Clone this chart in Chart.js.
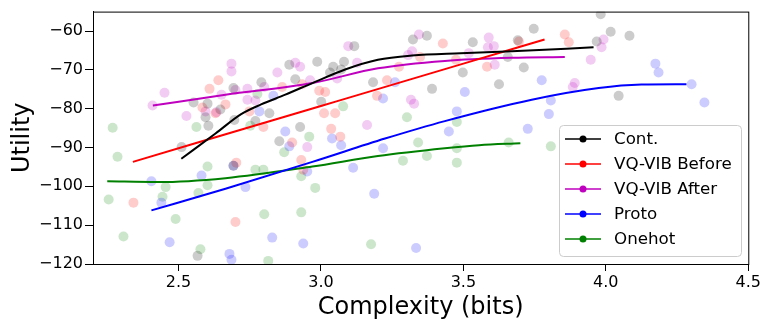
<!DOCTYPE html>
<html>
<head>
<meta charset="utf-8">
<script src="https://cdn.jsdelivr.net/npm/chart.js@4"></script>
<style>
  html, body { margin: 0; padding: 0; background: #fff; }
  #chart { display: block; }
</style>
</head>
<body>
<canvas id="chart" width="763" height="322"></canvas>
<script>
// axis ticks
const xTicks = [2.5, 3.0, 3.5, 4.0, 4.5];
const yTicks = [-120, -110, -100, -90, -80, -70, -60];

const seriesNames = ["Cont.", "VQ-VIB Before", "VQ-VIB After", "Proto", "Onehot"];
const seriesColors = ["#000000", "#ff0000", "#bf00bf", "#0000ff", "#008000"];

// fitted curves (complexity, utility)
const contFitX = [2.51, 2.63, 2.72, 2.79, 2.875, 2.97, 3.085, 3.2, 3.32, 3.49, 3.67, 3.957];
const contFitY = [-92.9, -86.4, -81.4, -78.9, -76.4, -73.4, -69.9, -67.4, -66.3, -65.7, -65.2, -64.2];
const beforeFitX = [2.34, 3.0, 3.5, 3.785];
const beforeFitY = [-93.7, -79.3, -68.4, -62.2];
const afterFitX = [2.41, 2.665, 2.97, 3.2, 3.435, 3.67, 3.856];
const afterFitY = [-79.2, -76.4, -73.4, -69.6, -67.7, -66.9, -66.7];
const protoFitX = [2.405, 2.665, 2.97, 3.225, 3.435, 3.74, 3.975, 4.125, 4.283];
const protoFitY = [-106.2, -100.6, -93.7, -87.7, -83.2, -77.7, -74.7, -73.8, -73.7];
const onehotFitX = [2.25, 2.43, 2.665, 2.97, 3.2, 3.435, 3.555, 3.7];
const onehotFitY = [-98.7, -98.9, -97.9, -94.9, -92.2, -90.2, -89.4, -88.9];

// individual runs
const contRuns = [
  [2.889, -68.7], [2.91, -72.4], [2.693, -74.7], [2.791, -73.2], [2.553, -78.4], [2.602, -78.7],
  [2.647, -80.2], [2.595, -82.2], [2.605, -84.4], [2.696, -82.9], [2.77, -83.2], [2.819, -81.2],
  [2.927, -84.7], [2.987, -67.9], [3.043, -69.2], [3.032, -70.7], [3.071, -69.9], [3.081, -67.9],
  [3.117, -63.9], [3.323, -62.2], [3.372, -61.2], [3.183, -73.2], [3.39, -74.9], [3.498, -70.7],
  [3.533, -62.9], [3.625, -73.7], [3.656, -66.7], [3.691, -62.4], [3.712, -69.4], [3.747, -59.4],
  [3.001, -78.2], [3.982, -55.7], [4.017, -60.2], [4.083, -61.2], [3.968, -62.7], [4.045, -76.7],
  [2.511, -89.9], [2.854, -88.4], [2.567, -117.9], [2.693, -94.7]
];
const beforeRuns = [
  [2.64, -72.7], [2.609, -74.9], [2.665, -78.9], [2.584, -79.7], [2.63, -81.2], [2.749, -80.7],
  [2.798, -84.7], [2.864, -74.4], [2.934, -73.7], [2.994, -75.4], [3.015, -75.7], [3.011, -81.2],
  [3.05, -81.2], [3.036, -85.2], [3.068, -87.2], [3.197, -76.7], [3.232, -72.7], [3.348, -66.7],
  [3.428, -63.2], [3.474, -67.4], [3.583, -69.2], [3.695, -62.7], [3.274, -69.2], [3.856, -60.9],
  [3.87, -62.9], [2.342, -104.2], [2.703, -93.9], [2.7, -109.2], [2.899, -88.7], [2.931, -93.2],
  [2.938, -95.7]
];
const afterRuns = [
  [2.686, -68.4], [2.686, -70.4], [2.451, -75.9], [2.409, -79.2], [2.528, -81.9], [2.651, -76.4],
  [2.7, -75.2], [2.742, -74.9], [2.742, -77.7], [2.77, -77.9], [2.801, -74.4], [2.847, -70.7],
  [2.91, -68.2], [2.927, -69.2], [2.595, -80.7], [2.633, -80.9], [2.962, -72.7], [3.096, -63.9],
  [3.127, -68.2], [3.057, -72.2], [3.344, -60.9], [3.32, -65.2], [3.306, -66.2], [3.316, -77.7],
  [3.327, -78.7], [3.162, -84.2], [3.519, -65.7], [3.589, -61.7], [3.586, -64.2], [3.607, -63.9],
  [3.61, -68.7], [3.992, -62.2], [3.985, -64.2], [3.947, -67.4], [3.891, -73.4], [3.884, -74.4],
  [2.952, -89.9]
];
const protoRuns = [
  [2.833, -76.7], [2.784, -80.7], [2.875, -85.9], [3.26, -73.2], [3.218, -77.4], [3.505, -75.7],
  [3.477, -80.7], [3.449, -85.9], [3.726, -85.2], [3.039, -87.7], [3.775, -72.7], [3.807, -77.9],
  [3.8, -81.4], [4.174, -68.4], [4.185, -70.7], [4.301, -73.7], [4.346, -78.4], [2.405, -98.7],
  [2.44, -104.2], [2.581, -97.2], [2.693, -94.7], [2.735, -100.2], [2.469, -114.4], [2.829, -113.2],
  [2.889, -89.7], [2.952, -96.2], [2.679, -117.4], [2.686, -118.9], [2.938, -114.7], [3.071, -89.4],
  [3.218, -90.2], [3.113, -95.2], [3.187, -101.9], [3.334, -115.9]
];
const onehotRuns = [
  [2.269, -84.9], [2.563, -84.7], [2.777, -76.2], [2.752, -84.4], [2.959, -87.2], [3.078, -79.4],
  [3.302, -82.2], [3.477, -83.4], [2.286, -92.4], [2.255, -103.4], [2.307, -112.9], [2.444, -102.7],
  [2.455, -100.2], [2.49, -108.4], [2.57, -101.7], [2.602, -94.9], [2.602, -99.7], [2.77, -95.7],
  [2.798, -95.7], [2.801, -107.2], [2.871, -91.2], [2.931, -97.4], [2.931, -106.7], [2.577, -116.2],
  [2.815, -119.2], [2.98, -100.4], [3.341, -88.7], [3.372, -92.2], [3.288, -93.4], [3.477, -90.2],
  [3.477, -93.9], [3.659, -88.7], [3.176, -114.9], [3.807, -89.7]
];

const fitX = [contFitX, beforeFitX, afterFitX, protoFitX, onehotFitX];
const fitY = [contFitY, beforeFitY, afterFitY, protoFitY, onehotFitY];
const runs = [contRuns, beforeRuns, afterRuns, protoRuns, onehotRuns];

const FONT = "'DejaVu Sans', sans-serif";

function withAlpha(hex, a) {
  const n = parseInt(hex.slice(1), 16);
  return `rgba(${n >> 16}, ${(n >> 8) & 255}, ${n & 255}, ${a})`;
}

const datasets = [];
// fit lines first so they sit on top of the scatter
seriesNames.forEach((name, i) => {
  datasets.push({
    label: name,
    data: fitX[i].map((x, j) => ({ x, y: fitY[i][j] })),
    showLine: true,
    borderColor: seriesColors[i],
    borderWidth: 2,
    pointRadius: 0,
    cubicInterpolationMode: "monotone",
    order: 0,
  });
});
seriesNames.forEach((name, i) => {
  datasets.push({
    label: name + " runs",
    data: runs[i].map(([x, y]) => ({ x, y })),
    showLine: false,
    pointRadius: 5,
    pointBorderWidth: 0,
    pointBackgroundColor: withAlpha(seriesColors[i], 0.2),
    order: 1,
  });
});

// matplotlib-like frame and in-axes legend
const framePlugin = {
  id: "frame",
  afterDraw(chart) {
    const { ctx, chartArea: a } = chart;
    ctx.save();
    ctx.strokeStyle = "#000";
    ctx.lineWidth = 1;
    ctx.strokeRect(a.left + 0.5, a.top + 0.5, a.right - a.left, a.bottom - a.top);

    // legend box
    const bx = 559, by = 125, bw = 182, bh = 131, r = 4;
    ctx.fillStyle = "rgba(255,255,255,0.8)";
    ctx.strokeStyle = "#cccccc";
    ctx.beginPath();
    ctx.roundRect(bx + 0.5, by + 0.5, bw, bh, r);
    ctx.fill();
    ctx.stroke();

    ctx.font = "16.7px " + FONT;
    ctx.textBaseline = "middle";
    seriesNames.forEach((name, i) => {
      const y = 139 + i * 25;
      ctx.strokeStyle = seriesColors[i];
      ctx.lineWidth = 1.5;
      ctx.beginPath();
      ctx.moveTo(565, y);
      ctx.lineTo(601, y);
      ctx.stroke();
      ctx.fillStyle = seriesColors[i];
      ctx.beginPath();
      ctx.arc(583, y, 3.5, 0, Math.PI * 2);
      ctx.fill();
      ctx.fillStyle = "#000";
      ctx.fillText(name, 614, y + 1);
    });
    ctx.restore();
  },
};

new Chart(document.getElementById("chart"), {
  type: "scatter",
  data: { datasets },
  options: {
    responsive: false,
    animation: false,
    devicePixelRatio: 1,
    layout: { padding: { top: 4, right: 13, left: 0, bottom: 0 } },
    plugins: { legend: { display: false }, tooltip: { enabled: false } },
    scales: {
      x: {
        type: "linear", min: 2.2, max: 4.5,
        afterBuildTicks: s => { s.ticks = xTicks.map(v => ({ value: v })); },
        afterFit: s => { s.height = 58; },
        grid: { drawOnChartArea: false, drawTicks: true, tickLength: 7, color: "#000" },
        border: { display: true, color: "#000" },
        ticks: { color: "#000", font: { family: FONT, size: 16 }, padding: 2,
                 maxRotation: 0, callback: v => v.toFixed(1) },
        title: { display: true, text: "Complexity (bits)", color: "#000",
                 font: { family: FONT, size: 24 }, padding: { top: 0, bottom: 0 } },
      },
      y: {
        type: "linear", min: -120, max: -55,
        afterBuildTicks: s => { s.ticks = yTicks.map(v => ({ value: v })); },
        afterFit: s => { s.width = 93; },
        grid: { drawOnChartArea: false, drawTicks: true, tickLength: 8, color: "#000" },
        border: { display: true, color: "#000" },
        ticks: { color: "#000", font: { family: FONT, size: 16 }, padding: 2,
                 callback: v => (v < 0 ? "\u2212" : "") + Math.abs(v) },
        title: { display: true, text: "Utility", color: "#000",
                 font: { family: FONT, size: 24 }, padding: { top: 8, bottom: 0 } },
      },
    },
  },
  plugins: [framePlugin],
});
</script>
</body>
</html>
